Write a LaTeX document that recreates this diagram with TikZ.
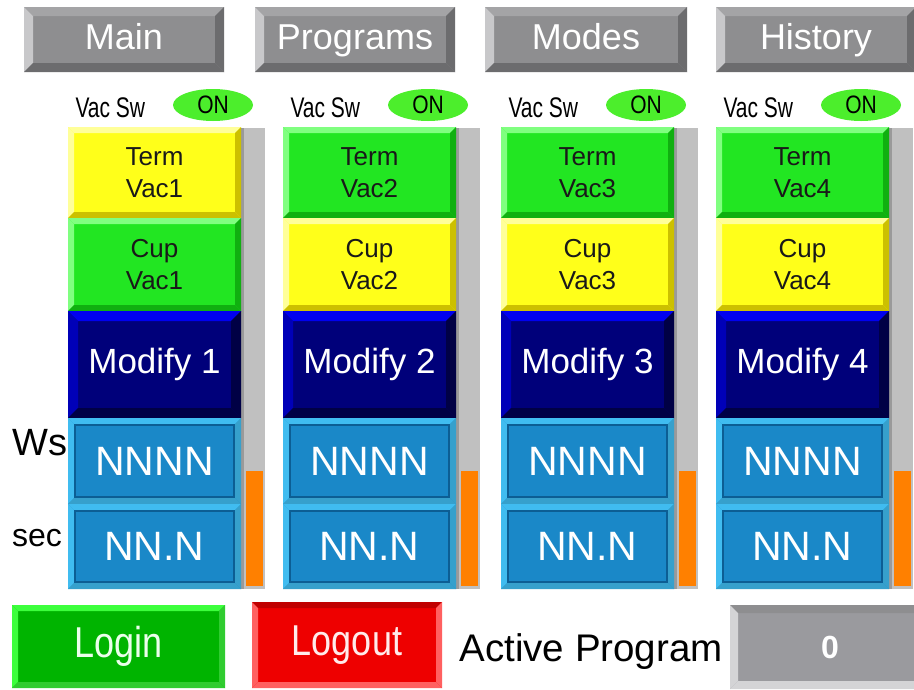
\documentclass[tikz,border=0pt]{standalone}
\usepackage{fontspec}
\setmainfont{Liberation Sans}
\usepackage{graphicx}
\usepackage{tikz}
\usetikzlibrary{shapes.geometric}
\definecolor{btngray}{HTML}{8E8E90}
\definecolor{btngraylt}{HTML}{C8C8CA}
\definecolor{btngraytop}{HTML}{A4A4A6}
\definecolor{btngraydk}{HTML}{6C6C6E}
\definecolor{vacyel}{HTML}{FFFF1A}
\definecolor{vacyellt}{HTML}{FFFF99}
\definecolor{vacyeldk}{HTML}{CCC000}
\definecolor{vacgrn}{HTML}{22E622}
\definecolor{vacgrnlt}{HTML}{80FF80}
\definecolor{vacgrndk}{HTML}{10B010}
\definecolor{modnavy}{HTML}{00007A}
\definecolor{modtop}{HTML}{0000F0}
\definecolor{modleft}{HTML}{0000B8}
\definecolor{moddk}{HTML}{000045}
\definecolor{valblue}{HTML}{1A88C8}
\definecolor{valbluelt}{HTML}{40BCF0}
\definecolor{valbluedk}{HTML}{0C5E94}
\definecolor{baror}{HTML}{FF8000}
\definecolor{bargray}{HTML}{C0C0C0}
\definecolor{onlime}{HTML}{4CEE2C}
\definecolor{loggrn}{HTML}{00B400}
\definecolor{loggrnlt}{HTML}{3CFF3C}
\definecolor{logred}{HTML}{EE0000}
\definecolor{logredlt}{HTML}{FF6060}
\definecolor{logreddk}{HTML}{C00000}
\definecolor{actgray}{HTML}{9A9A9E}
\definecolor{actgraylt}{HTML}{D4D4D6}
\newcommand\topfont{\fontsize{36}{40}\selectfont}
\newcommand\vacfont{\fontsize{21}{24}\selectfont}
\newcommand\termfont{\fontsize{26}{32}\selectfont}
\newcommand\modfont{\fontsize{35}{40}\selectfont}
\newcommand\valfont{\fontsize{41}{46}\selectfont}
\newcommand\tall[2][1.35]{\scalebox{1}[#1]{#2}}
\tikzset{
  bvw/.store in=\bvw, bvw=7pt,
  bvtop/.store in=\bvtop, bvleft/.store in=\bvleft,
  bvbot/.store in=\bvbot, bvright/.store in=\bvright,
  bvtop=white, bvleft=white, bvbot=black, bvright=black,
  bvinner/.style={draw=none}
}
\tikzset{
  bevel/.style={ inner sep=0pt, align=center, path picture={
    \path (path picture bounding box.north west) coordinate (nw)
          (path picture bounding box.north east) coordinate (ne)
          (path picture bounding box.south east) coordinate (se)
          (path picture bounding box.south west) coordinate (sw);
    \fill[\bvtop] (nw) -- (ne) -- ([shift={(-\bvw,-\bvw)}]ne) -- ([shift={(\bvw,-\bvw)}]nw) -- cycle;
    \fill[\bvleft] (nw) -- (sw) -- ([shift={(\bvw,\bvw)}]sw) -- ([shift={(\bvw,-\bvw)}]nw) -- cycle;
    \fill[\bvbot] (sw) -- (se) -- ([shift={(-\bvw,\bvw)}]se) -- ([shift={(\bvw,\bvw)}]sw) -- cycle;
    \fill[\bvright] (ne) -- (se) -- ([shift={(-\bvw,\bvw)}]se) -- ([shift={(-\bvw,-\bvw)}]ne) -- cycle;
    \path[bvinner] ([shift={(\bvw,-\bvw)}]nw) rectangle ([shift={(-\bvw,\bvw)}]se);
  }}
}
\tikzset{
  graybtn/.style={ bevel, fill=btngray, bvtop=btngraytop, bvleft=btngraylt, bvbot=btngraydk,
    bvright=btngraydk, bvw=9pt, text=white, font=\topfont, text height=26pt, text depth=7pt,
    minimum width=200pt, minimum height=65pt }
}
\tikzset{
  vacbtn/.style={ bevel, fill=#1, bvtop=#1lt, bvleft=#1lt, bvbot=#1dk, bvright=#1dk, bvw=6pt,
    text=black!90, font=\termfont, minimum width=173pt }
}
\tikzset{
  modbtn/.style={ bevel, fill=modnavy, bvtop=modtop, bvleft=modleft, bvbot=moddk, bvright=moddk,
    bvw=10pt, text=white, font=\modfont, minimum width=173pt, minimum height=107pt }
}
\tikzset{
  valbox/.style={ bevel, fill=valblue, bvtop=valbluelt, bvleft=valbluelt, bvbot=valbluelt!85!black,
    bvright=valbluelt!85!black, bvw=7pt, bvinner/.style={draw=valbluedk, line width=2pt},
    text=white, font=\valfont, minimum width=173pt }
}
\tikzset{
  onpill/.style={ ellipse, fill=onlime, inner sep=0pt, minimum width=80pt, minimum height=32pt, font=\vacfont }
}

\begin{document}
\begin{tikzpicture}[x=1pt, y=-1pt]
  \clip (0,0) rectangle (914,689);
  \fill[white] (0,0) rectangle (914,689);

  \node[graybtn] (main) at (124,39.5) {Main};
  \node[graybtn] (progs) at (355,39.5) {Programs};
  \node[graybtn, minimum width=202pt] (modes) at (586,39.5) {Modes};
  \node[graybtn] (hist) at (816,39.5) {History};

  \node[font=\fontsize{38}{42}\selectfont] (ws) at (40,443) {Ws};
  \node[font=\fontsize{32}{36}\selectfont] (sec) at (37,538) {sec};

  \foreach \i/\lx/\ta/\ca in {1/68/vacyel/vacgrn, 2/283/vacgrn/vacyel, 3/501/vacgrn/vacyel, 4/716/vacgrn/vacyel} {
    \fill[bargray] (\lx+173,128) rectangle (\lx+197,589);
    \fill[bargray!80!black] (\lx+173,128) rectangle (\lx+176,589);
    \fill[baror] (\lx+178,471) rectangle (\lx+195,586);
    \node[anchor=west, font=\vacfont] (vs\i) at (\lx+4,108) {\tall{Vac Sw}};
    \node[onpill] (on\i) at (\lx+145,105) {\tall[1.2]{ON}};
    \node[vacbtn=\ta, minimum height=91pt] (term\i) at (\lx+86.5,172.5) {Term\\Vac\i};
    \node[vacbtn=\ca, minimum height=93pt] (cup\i) at (\lx+86.5,264.5) {Cup\\Vac\i};
    \node[modbtn] (mod\i) at (\lx+86.5,364.5) {Modify \i};
    \node[valbox, minimum height=86pt] (wsval\i) at (\lx+86.5,461) {NNNN};
    \node[valbox, minimum height=85pt] (secval\i) at (\lx+86.5,546.5) {NN.N};
  }

  \node[bevel, fill=loggrn, bvtop=loggrnlt, bvleft=loggrnlt, bvbot=loggrnlt!80!black, bvright=loggrnlt!80!black,
    bvw=6pt, text=green!8, font=\topfont, minimum width=213pt, minimum height=83pt] (login) at (118.5,646.5) {\tall[1.2]{Login}};
  \node[bevel, fill=logred, bvtop=logreddk, bvleft=logredlt, bvbot=logredlt, bvright=logredlt,
    bvw=6pt, text=red!8, font=\topfont, minimum width=190pt, minimum height=86pt] (logout) at (347,645) {\tall[1.2]{Logout}};
  \node[anchor=west, font=\fontsize{38.5}{42}\selectfont] (actlbl) at (456,652) {Active Program};
  \node[bevel, fill=actgray, bvtop=btngray, bvleft=actgraylt, bvbot=actgraylt, bvright=btngray,
    bvw=8pt, text=white, font=\fontsize{32}{36}\selectfont\bfseries, minimum width=200pt, minimum height=84pt] (actval) at (830,647) {0};
\end{tikzpicture}
\end{document}
